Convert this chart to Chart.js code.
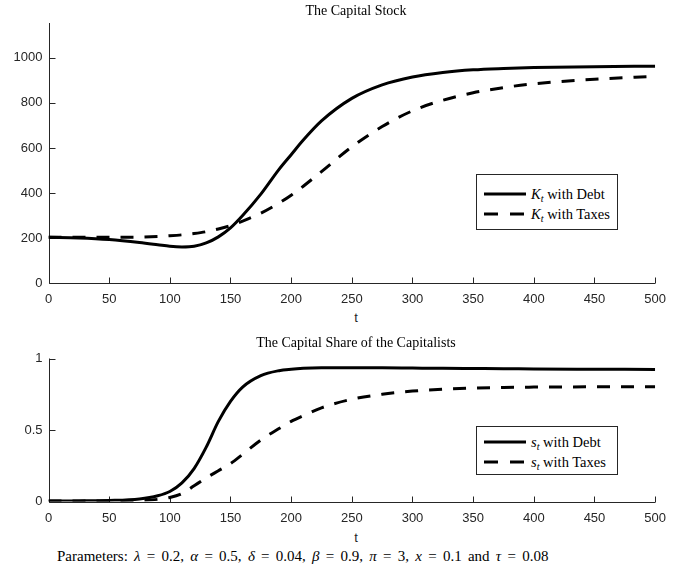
<!DOCTYPE html>
<html lang="en">
<head>
    <meta charset="UTF-8">
    <title>The Capital Stock</title>
    <script src="https://cdn.jsdelivr.net/npm/chart.js"></script>
    <style>
        * { margin: 0; padding: 0; box-sizing: border-box; }
        body { background: #fff; width: 675px; height: 572px; overflow: hidden; }
        .wrap { position: relative; width: 675px; height: 572px; }
        canvas { position: absolute; left: 0; }
        #capChart { top: 0; }
        #shareChart { top: 330px; }
        .serif { font-family: 'Liberation Serif', 'DejaVu Serif', serif; color: #000; position: absolute; white-space: nowrap; }
        .title { font-size: 14px; left: 48px; width: 616px; text-align: center; }
        .xlab { position: absolute; font-family: 'Liberation Sans', Arial, sans-serif; font-size: 13px; left: 48px; width: 616px; text-align: center; color: #262626; }
        .legend { position: absolute; left: 476px; width: 142px; border: 1px solid #262626; background: #fff; }
        .legend .row { position: absolute; left: 6px; height: 18px; display: flex; align-items: center; }
        .legend svg { width: 44px; height: 6px; margin-right: 4px; }
        .legend span { font-family: 'Liberation Serif', serif; font-size: 14.5px; }
        .params { font-size: 15px; word-spacing: 2.5px; left: 57px; top: 548px; }
        i { font-style: italic; }
        sub { font-size: 70%; vertical-align: -3px; line-height: 0; }
    </style>
</head>
<body>
<div class="wrap">
    <canvas id="capChart" width="675" height="310"></canvas>
    <canvas id="shareChart" width="675" height="200"></canvas>

    <div class="serif title" style="top:3px">The Capital Stock</div>
    <div class="xlab" style="top:310px">t</div>
    <div class="serif title" style="top:335px">The Capital Share of the Capitalists</div>
    <div class="xlab" style="top:530px">t</div>

    <div class="legend" style="top:174px; height:56px">
        <div class="row" style="top:10px">
            <svg><line x1="1" y1="3" x2="43" y2="3" stroke="#000" stroke-width="3"/></svg>
            <span><i>K<sub>t</sub></i> with Debt</span>
        </div>
        <div class="row" style="top:30px">
            <svg><line x1="1" y1="3" x2="43" y2="3" stroke="#000" stroke-width="3" stroke-dasharray="14 12"/></svg>
            <span><i>K<sub>t</sub></i> with Taxes</span>
        </div>
    </div>

    <div class="legend" style="top:426px; height:49px">
        <div class="row" style="top:6px">
            <svg><line x1="1" y1="3" x2="43" y2="3" stroke="#000" stroke-width="3"/></svg>
            <span><i>s<sub>t</sub></i> with Debt</span>
        </div>
        <div class="row" style="top:26px">
            <svg><line x1="1" y1="3" x2="43" y2="3" stroke="#000" stroke-width="3" stroke-dasharray="14 12"/></svg>
            <span><i>s<sub>t</sub></i> with Taxes</span>
        </div>
    </div>

    <div class="serif params">Parameters: <i>λ</i> = 0.2, <i>α</i> = 0.5, <i>δ</i> = 0.04, <i>β</i> = 0.9, <i>π</i> = 3, <i>x</i> = 0.1 and <i>τ</i> = 0.08</div>
</div>

<script>
    // time grid shared by all four series
    const tPoints = [0, 25, 50, 75, 90, 100, 110, 120, 130, 140, 150, 160, 175, 190, 200, 210, 225, 250, 275, 300, 325, 350, 375, 400, 450, 500];

    // capital stock
    const capitalDebt  = [203, 200, 193, 180, 170, 163, 160, 163, 178, 205, 245, 300, 395, 505, 570, 635, 720, 820, 880, 915, 935, 947, 953, 957, 961, 963];
    const capitalTaxes = [203, 203, 203, 204, 207, 210, 214, 220, 228, 240, 255, 275, 310, 355, 390, 430, 495, 605, 695, 765, 812, 845, 868, 885, 905, 918];

    // capital share of the capitalists
    const shareDebt  = [0.003, 0.004, 0.007, 0.018, 0.04, 0.07, 0.13, 0.23, 0.38, 0.56, 0.70, 0.80, 0.88, 0.915, 0.925, 0.931, 0.935, 0.936, 0.935, 0.933, 0.931, 0.930, 0.929, 0.927, 0.925, 0.923];
    const shareTaxes = [0.003, 0.003, 0.004, 0.008, 0.015, 0.028, 0.055, 0.11, 0.165, 0.215, 0.265, 0.33, 0.43, 0.51, 0.56, 0.60, 0.655, 0.715, 0.75, 0.772, 0.785, 0.793, 0.798, 0.80, 0.802, 0.803];

    // tick labels
    const xTicks = [0, 50, 100, 150, 200, 250, 300, 350, 400, 450, 500];
    const capTicks = [0, 200, 400, 600, 800, 1000];
    const shareTicks = [0, 0.5, 1];

    const axisColor = '#262626';

    // matlab-style axes: left + bottom line, ticks pointing inwards
    const innerAxes = {
        id: 'innerAxes',
        beforeDatasetsDraw(chart) {
            const { ctx, chartArea: a, scales: { x, y } } = chart;
            const left = Math.round(a.left) + 0.5;
            const bottom = Math.round(a.bottom) + 0.5;
            ctx.save();
            ctx.strokeStyle = axisColor;
            ctx.lineWidth = 1;
            ctx.beginPath();
            ctx.moveTo(left, a.top);
            ctx.lineTo(left, bottom);
            ctx.lineTo(a.right, bottom);
            x.ticks.forEach(t => {
                const px = Math.round(x.getPixelForValue(t.value)) + 0.5;
                ctx.moveTo(px, bottom);
                ctx.lineTo(px, bottom - 6);
            });
            y.ticks.forEach(t => {
                const py = Math.round(y.getPixelForValue(t.value)) + 0.5;
                ctx.moveTo(left, py);
                ctx.lineTo(left + 6, py);
            });
            ctx.stroke();
            ctx.restore();
        }
    };

    function toPoints(vals) {
        return tPoints.map((t, i) => ({ x: t, y: vals[i] }));
    }

    function makeChart(id, solid, dashed, yMax, yTicks, padTop, xHeight) {
        const tickFont = { family: "'Liberation Sans', Arial, sans-serif", size: 13 };
        return new Chart(document.getElementById(id), {
            type: 'line',
            data: {
                datasets: [
                    { data: toPoints(solid), borderColor: '#000', borderWidth: 3, pointRadius: 0, cubicInterpolationMode: 'monotone' },
                    { data: toPoints(dashed), borderColor: '#000', borderWidth: 3, borderDash: [13, 11], pointRadius: 0, cubicInterpolationMode: 'monotone' }
                ]
            },
            options: {
                responsive: false,
                animation: false,
                layout: { padding: { top: padTop, right: 11.5, left: 0, bottom: 0 } },
                plugins: { legend: { display: false }, tooltip: { enabled: false } },
                scales: {
                    x: {
                        type: 'linear', min: 0, max: 500,
                        grid: { display: false, drawTicks: false },
                        border: { display: false },
                        afterBuildTicks: s => { s.ticks = xTicks.map(v => ({ value: v })); },
                        afterFit: s => { s.height = xHeight; },
                        ticks: { color: axisColor, font: tickFont, padding: 9, maxRotation: 0, callback: v => String(v) }
                    },
                    y: {
                        type: 'linear', min: 0, max: yMax,
                        grid: { display: false, drawTicks: false },
                        border: { display: false },
                        afterBuildTicks: s => { s.ticks = yTicks.map(v => ({ value: v })); },
                        afterFit: s => { s.width = 48.5; },
                        ticks: { color: axisColor, font: tickFont, padding: 6, callback: v => String(v) }
                    }
                }
            },
            plugins: [innerAxes]
        });
    }

    makeChart('capChart', capitalDebt, capitalTaxes, 1155, capTicks, 23, 27);
    makeChart('shareChart', shareDebt, shareTaxes, 1, shareTicks, 28.5, 28.5);
</script>
</body>
</html>
